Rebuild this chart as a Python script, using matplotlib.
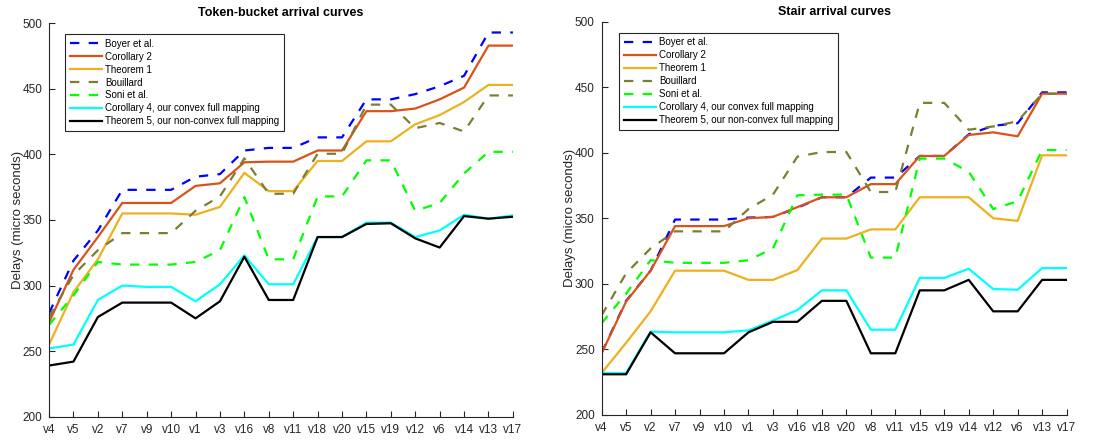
import matplotlib
matplotlib.use('Agg')
import matplotlib.pyplot as plt

plt.rcParams['font.family'] = ['Liberation Sans', 'DejaVu Sans']

# flows, in the order each panel sorts them
flows_tb = ['v4', 'v5', 'v2', 'v7', 'v9', 'v10', 'v1', 'v3', 'v16', 'v8',
            'v11', 'v18', 'v20', 'v15', 'v19', 'v12', 'v6', 'v14', 'v13', 'v17']
flows_st = ['v4', 'v5', 'v2', 'v7', 'v9', 'v10', 'v1', 'v3', 'v16', 'v18',
            'v20', 'v8', 'v11', 'v15', 'v19', 'v14', 'v12', 'v6', 'v13', 'v17']

# token-bucket arrival curves (micro seconds)
boyer_tb = [279, 319, 342, 373, 373, 373, 383, 385, 403, 405,
            405, 413, 413, 442, 442, 446, 452, 460, 493, 493]
cor2_tb = [272, 312, 337, 363, 363, 363, 376, 378, 394, 394.5,
           394.5, 403, 403, 433, 433, 435, 442, 451, 483, 483]
thm1_tb = [255, 295, 320, 355, 355, 355, 354, 360, 386, 372,
           372, 395, 395, 410, 410, 423, 430, 440, 453, 453]
bouillard_tb = [276, 308, 327, 340, 340, 340, 357, 368, 397, 370,
                370, 400.5, 400.5, 438, 438, 420, 424, 417.5, 445, 445]
soni_tb = [270, 292.5, 318, 316, 316, 316, 318, 327, 367.5, 320,
           320, 368, 368, 395.5, 395.5, 357, 363, 385.5, 402, 402]
cor4_tb = [252, 255, 289, 300, 299, 299, 288, 301, 323, 301,
           301, 337, 337, 348, 348, 337, 342, 354, 351, 353.5]
thm5_tb = [239, 242, 276, 287, 287, 287, 275, 288, 322, 289,
           289, 337, 337, 347, 347.5, 336, 329, 353, 351, 352.5]

# stair arrival curves (micro seconds)
boyer_st = [247.5, 287, 310, 349, 349, 349, 350.5, 351, 358, 366,
            366, 381, 381, 397.5, 397.5, 414, 420.5, 422.5, 446, 446]
cor2_st = [247, 286.5, 310, 344, 344, 344, 350, 351, 358.5, 366,
           366, 376, 376, 397.5, 397.5, 413.5, 415.5, 412.5, 445, 445]
thm1_st = [232, 255, 279, 310, 310, 310, 303, 303, 310.5, 334.5,
           334.5, 341.5, 341.5, 366, 366, 366, 350, 348, 398, 398]
bouillard_st = [276, 308, 327, 340, 340, 340, 357, 368, 397, 400.5,
                400.5, 370, 370, 438, 438, 417.5, 420, 424, 445, 445]
soni_st = [270, 292.5, 318, 316, 316, 316, 318, 327, 367.5, 368,
           368, 320, 320, 395.5, 395.5, 385.5, 357, 363, 402, 402]
cor4_st = [232, 232, 263.5, 263, 263, 263, 264.5, 272, 280, 295,
           295, 265, 265, 304.5, 304.5, 311.5, 296, 295.5, 312, 312]
thm5_st = [231, 231, 263, 247, 247, 247, 263, 271, 271, 287,
           287, 247, 247, 295, 295, 303, 279, 279, 303, 303]

labels = ['Boyer et al.', 'Corollary 2', 'Theorem 1', 'Bouillard', 'Soni et al.',
          'Corollary 4, our convex full mapping', 'Theorem 5, our non-convex full mapping']
colors = ['#0000ff', '#d95319', '#edb120', '#7d7d33', '#00ff00', '#00ffff', '#000000']
dashed = [True, False, False, True, True, False, False]


def draw(ax, flows, series, title, legend_at):
    x = range(len(flows))
    for y, lab, c, d in zip(series, labels, colors, dashed):
        if d:
            ax.plot(x, y, color=c, lw=1.6, dashes=(4.2, 4.2), label=lab,
                    solid_joinstyle='round', dash_joinstyle='round')
        else:
            ax.plot(x, y, color=c, lw=1.6, label=lab, solid_joinstyle='round')
    ax.set_xlim(0, len(flows) - 1)
    ax.set_ylim(200, 500)
    ax.set_xticks(list(x))
    ax.set_xticklabels(flows)
    ax.set_yticks(range(200, 501, 50))
    ax.set_ylabel('Delays (micro seconds)', fontsize=9.5, color='#262626', labelpad=-1)
    ax.set_title(title, fontsize=9, fontweight='bold', pad=5)
    for s in ['top', 'right']:
        ax.spines[s].set_visible(False)
    for s in ['left', 'bottom']:
        ax.spines[s].set_color('#262626')
        ax.spines[s].set_linewidth(0.8)
    ax.tick_params(direction='in', length=4, width=0.8, colors='#262626',
                   labelsize=8.5, pad=5)
    leg = ax.legend(loc='upper left', bbox_to_anchor=legend_at, borderaxespad=0,
                    fontsize=7, handlelength=3.3, handletextpad=0.35,
                    labelspacing=0.3, borderpad=0.5, fancybox=False, framealpha=1)
    leg.get_frame().set_edgecolor('#262626')
    leg.get_frame().set_linewidth(0.8)


fig = plt.figure(figsize=(11.15, 4.4), dpi=100)
ax1 = fig.add_axes([0.044, 0.053, 0.416, 0.894])
ax2 = fig.add_axes([0.5396, 0.057, 0.417, 0.894])

draw(ax1, flows_tb, [boyer_tb, cor2_tb, thm1_tb, bouillard_tb, soni_tb, cor4_tb, thm5_tb],
     'Token-bucket arrival curves', (0.0345, 0.973))
draw(ax2, flows_st, [boyer_st, cor2_st, thm1_st, bouillard_st, soni_st, cor4_st, thm5_st],
     'Stair arrival curves', (0.037, 0.972))

fig.savefig('out.png', dpi=100)
